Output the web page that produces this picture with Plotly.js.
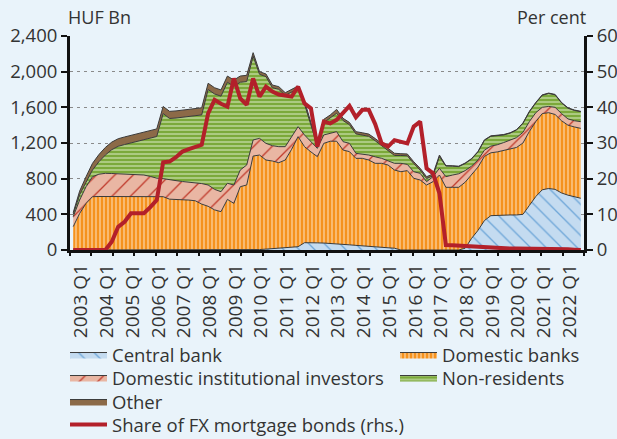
<!DOCTYPE html>
<html><head><meta charset="utf-8">
<script src="https://cdn.plot.ly/plotly-3.0.1.min.js"></script>
<style>html,body{margin:0;padding:0;background:#E9F3FA;}#chart{width:617px;height:439px;}</style>
</head><body><div id="chart"></div>
<script>
const years = [2003,2004,2005,2006,2007,2008,2009,2010,2011,2012,2013,2014,2015,2016,2017,2018,2019,2020,2021,2022];
const quarterNames = ['Q1','Q2','Q3','Q4'];
const quarters = [];
years.forEach(y => quarterNames.forEach(q => quarters.push(y + ' ' + q)));
const tickLabels = years.map(y => y + ' Q1');

// HUF Bn, stacked from the bottom
const centralBank = [0,0,0,0,0,0,0,0,0,0, 0,0,0,0,0,0,0,0,0,0, 0,0,0,0,0,0,0,0,0,5,
  10,15,20,25,30,37,82,85,80,78, 75,70,62,58,52,45,40,35,30,25, 20,0,0,0,0,0,0,0,0,0,
  0,20,130,220,330,385,390,392,393,393, 400,500,600,675,690,680,640,615,600,580];
const domesticBanks = [262,410,523,598,600,600,600,600,600,600, 600,598,600,605,598,570,568,568,560,552,
  515,490,450,430,568,523,710,729,1054,1060, 999,983,959,984,1100,1234,1077,1015,967,1118,
  1145,1150,1059,1045,976,983,969,937,942,928, 877,878,890,804,785,729,766,841,703,703,
  703,740,720,710,720,705,710,723,737,757, 800,830,840,855,850,840,810,785,780,784];
const domesticInstInvestors = [112,150,187,224,250,260,258,255,252,248, 245,243,225,201,202,215,210,200,202,204,
  230,239,230,224,180,206,187,224,180,187, 187,172,180,150,140,112,131,120,93,94,
  90,107,94,93,56,47,56,73,56,47, 75,94,70,74,75,37,56,75,119,137,
  152,130,90,80,70,75,80,90,100,110, 120,110,100,70,70,80,80,70,70,75];
const nonResidents = [26,60,50,75,140,205,267,308,331,352, 375,396,430,467,730,690,702,720,733,746,
  770,1071,1070,1071,1133,1107,984,936,939,718, 748,650,643,575,502,426,346,184,25,140,
  169,206,237,209,218,215,210,180,143,115, 88,88,97,92,36,36,10,131,120,100,
  80,80,80,90,110,110,100,85,80,85, 100,110,110,135,145,140,120,120,115,112];
const other = [20,40,62,75,80,85,85,85,85,85, 85,85,85,85,80,80,80,80,80,80,
  80,70,70,70,70,70,70,70,40,30, 30,30,30,30,30,30,35,35,24,35,
  35,44,25,25,25,25,25,25,25,25, 25,20,20,20,20,20,20,18,4,5,
  5,5,5,5,5,5,5,5,5,5, 5,5,5,5,5,5,5,5,5,4];
// Per cent (rhs)
const fxShare = [0,0,0,0,0,0,2.3,6.5,7.9,10.3, 10.3,10.3,12,14,24.6,24.8,26,27.6,28.3,29,
  29.5,38.3,42.1,41,40.2,48.1,42.5,40.7,48.1,43, 45.8,44.4,43.6,43.3,43,45.8,41.1,39.7,29,36,
  35.5,36.5,38.5,40.4,37.2,39.3,39.3,35.3,29.9,29, 30.8,30.3,29.9,34.6,36,22.9,21.5,15.9,1.4,1.3,
  1.2,1.0,0.8,0.7,0.6,0.5,0.5,0.5,0.4,0.4, 0.4,0.3,0.3,0.3,0.2,0.2,0.2,0.2,0.1,0];

const idx = quarters.map((q, i) => i);
const tickPos = quarters.map((q, i) => q.endsWith('Q1') ? i + 1.25 : null).filter(v => v !== null);

const FONT = 'Open Sans, sans-serif';
const TXT = '#333333';
const BG = '#E9F3FA';

function area(name, y, bg, fg, shape, size, sol, leg) {
  const t = {type:'scatter', mode:'lines', x: idx, y: y, name: name, stackgroup:'one',
    line:{color:'#3a3a3a', width:1}, fillcolor: bg, legend: leg, hoverinfo:'skip'};
  if (shape) t.fillpattern = {shape: shape, bgcolor: bg, fgcolor: fg, size: size, solidity: sol};
  return t;
}
const traces = [
  area('Central bank', centralBank, '#C4DBF0', '#6EA6D8', '\\', 11, 0.12, 'legend'),
  area('Domestic banks', domesticBanks, '#F5921E', '#FCD6A8', '|', 4, 0.3, 'legend2'),
  area('Domestic institutional investors', domesticInstInvestors, '#E9B6A3', '#C0392B', '/', 13, 0.1, 'legend3'),
  area('Non-residents', nonResidents, '#7BA93A', '#DCEBC6', '-', 4, 0.25, 'legend4'),
  area('Other', other, '#8C6A48', null, null, 0, 0, 'legend5'),
  {type:'scatter', mode:'lines', x: idx, y: fxShare, yaxis:'y2', name:'Share of FX mortgage bonds (rhs.)',
   line:{color:'#B3202A', width:4}, legend:'legend6', hoverinfo:'skip'},
  {type:'scatter', mode:'lines', x:[null], y:[null], xaxis:'x2', showlegend:false, hoverinfo:'skip'}
];

const L = 70, R = 584, T = 36, B = 250;
function leg(px, py) {
  return {x:(px - L)/(R - L), y:(B - py)/(B - T), xanchor:'left', yanchor:'middle', orientation:'v',
    bgcolor:'rgba(0,0,0,0)', borderwidth:0, font:{family:FONT, size:18.5, color:TXT}, itemwidth:37, traceorder:'normal'};
}
const axisFont = {family:FONT, size:18.5, color:TXT};
const layout = {
  width:617, height:439,
  margin:{l:L, r:617 - R, t:T, b:439 - B, autoexpand:false},
  paper_bgcolor:BG, plot_bgcolor:BG,
  showlegend:true,
  xaxis:{range:[-0.5, 79.5], tickmode:'array', tickvals:tickPos, ticktext:tickLabels, ticks:'',
    tickangle:-90, tickfont:{family:FONT, size:19, color:TXT}, ticklabelstandoff:4,
    showgrid:false, zeroline:false, showline:true, linecolor:'#111', linewidth:2.5},
  xaxis2:{overlaying:'x', range:[0, 24], tickmode:'linear', tick0:0, dtick:1, ticks:'outside', ticklen:5,
    tickwidth:2, tickcolor:'#111', showticklabels:false, showgrid:false, zeroline:false, showline:false},
  yaxis:{range:[0, 2400], tickmode:'array', tickvals:[0,400,800,1200,1600,2000,2400], tickformat:',d',
    tickfont:axisFont, ticks:'outside', ticklen:6, tickwidth:2, tickcolor:'#111',
    showgrid:true, gridcolor:'#8a8a8a', griddash:'3px,4px', gridwidth:1, zeroline:false,
    showline:true, linecolor:'#111', linewidth:3},
  yaxis2:{overlaying:'y', side:'right', range:[0, 60], tickmode:'array', tickvals:[0,10,20,30,40,50,60],
    tickfont:axisFont, ticks:'outside', ticklen:6, tickwidth:2, tickcolor:'#111',
    showgrid:false, zeroline:false, showline:true, linecolor:'#111', linewidth:3},
  legend: leg(65, 355), legend2: leg(395, 355), legend3: leg(65, 378),
  legend4: leg(395, 378), legend5: leg(65, 402), legend6: leg(65, 425),
  annotations:[
    {text:'HUF Bn', xref:'paper', yref:'paper', x:(66 - L)/(R - L), y:(B - 17)/(B - T), xanchor:'left', yanchor:'middle',
     showarrow:false, font:{family:FONT, size:18, color:TXT}},
    {text:'Per cent', xref:'paper', yref:'paper', x:(588 - L)/(R - L), y:(B - 17)/(B - T), xanchor:'right', yanchor:'middle',
     showarrow:false, font:{family:FONT, size:18, color:TXT}}
  ]
};
Plotly.newPlot('chart', traces, layout, {staticPlot:true, displayModeBar:false});
</script>
</body></html>
